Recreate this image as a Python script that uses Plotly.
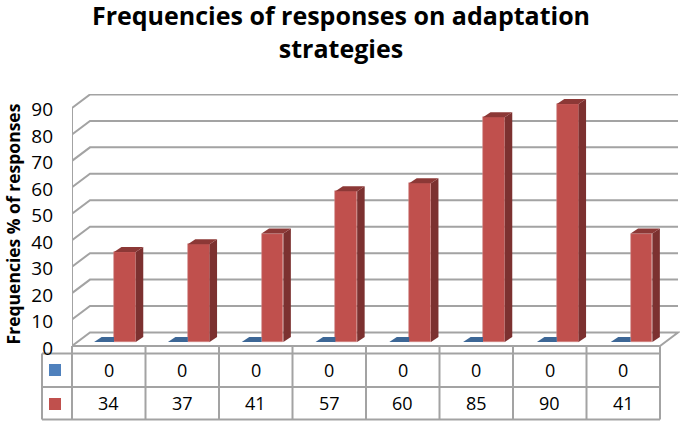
import plotly.graph_objects as go

cells = list(range(8))
blue_values = [0, 0, 0, 0, 0, 0, 0, 0]
red_values = [34, 37, 41, 57, 60, 85, 90, 41]
y_ticks = [0, 10, 20, 30, 40, 50, 60, 70, 80, 90]
title_text = "Frequencies of responses on adaptation<br>strategies"
y_title = "Frequencies % of responses"

FONT = "Open Sans"
GRID = "#a3a3a3"
RED = "#c0504d"
RED_SIDE = "#7c3130"
RED_TOP = "#8c3836"
BLUE = "#4f81bd"
BLUE_TOP = "#3d6796"

X_SCALE = 73.8    # px per category for the bars
Y_SCALE = 2.645   # px per percent
WALL_DX, WALL_DY = 18 / X_SCALE, 13.5 / Y_SCALE
BAR_DX, BAR_DY = 7.5 / X_SCALE, 5 / Y_SCALE
BAR_BASE = 4 / Y_SCALE
BAR_LEFT, BAR_W = 0.069, 0.295
BLUE_LEFT = -0.20
X0 = -0.5
X1 = X0 + 588 / X_SCALE
LABEL_NUDGE = 0.7

fig = go.Figure()

fig.add_trace(go.Bar(
    x=cells, y=red_values, base=[BAR_BASE] * 8,
    width=[BAR_W] * 8, offset=[BAR_LEFT] * 8,
    marker=dict(color=RED, line=dict(color="#d08a88", width=0.6)),
    showlegend=False, hoverinfo="y",
))

for i, b, r in zip(cells, blue_values, red_values):
    yb = b + BAR_BASE
    xl = i + BLUE_LEFT
    xr = i + BAR_LEFT
    fig.add_trace(go.Scatter(
        x=[xl, xl + BAR_DX, xr, xr, xl], y=[yb, yb + BAR_DY, yb + BAR_DY, yb, yb],
        mode="lines", fill="toself", fillcolor=BLUE_TOP, line=dict(width=0),
        showlegend=False, hoverinfo="skip",
    ))
    xa = i + BAR_LEFT + BAR_W
    top = r + BAR_BASE
    fig.add_trace(go.Scatter(
        x=[xa, xa + BAR_DX, xa + BAR_DX, xa, xa],
        y=[BAR_BASE, BAR_BASE + BAR_DY, top + BAR_DY, top, BAR_BASE],
        mode="lines", fill="toself", fillcolor=RED_SIDE, line=dict(width=0),
        showlegend=False, hoverinfo="skip",
    ))
    xs = i + BAR_LEFT
    fig.add_trace(go.Scatter(
        x=[xs, xs + BAR_DX, xa + BAR_DX, xa, xs],
        y=[top, top + BAR_DY, top + BAR_DY, top, top],
        mode="lines", fill="toself", fillcolor=RED_TOP, line=dict(width=0),
        showlegend=False, hoverinfo="skip",
    ))

shapes = []
line = dict(color=GRID, width=2)
for t in y_ticks:
    path = f"M {X0} {t} L {X0 + WALL_DX} {t + WALL_DY} L {X1 + WALL_DX} {t + WALL_DY}"
    if t == 0:
        path += f" L {X1} 0 L {X0} 0"
    shapes.append(dict(type="path", path=path, xref="x", yref="y", line=line, layer="below"))
shapes.append(dict(type="line", xref="x", yref="y", x0=X0, x1=X0, y0=0, y1=y_ticks[-1],
                   line=line, layer="below"))

PH = 260.0
PW = 608.0
def py(px_from_top):
    return (354 - px_from_top) / PH
def px(px_from_left):
    return (px_from_left - 72) / PW

CELL = 73.5
for yy in [353.5, 387, 419.5]:
    shapes.append(dict(type="line", xref="paper", yref="paper", x0=px(42), x1=px(660),
                       y0=py(yy), y1=py(yy), line=line, layer="below"))
shapes.append(dict(type="line", xref="paper", yref="paper", x0=px(42), x1=px(42),
                   y0=py(353.5), y1=py(419.5), line=line, layer="below"))
for k in range(9):
    xk = px(72 + CELL * k)
    shapes.append(dict(type="line", xref="paper", yref="paper", x0=xk, x1=xk,
                       y0=py(346), y1=py(419.5), line=line, layer="below"))
for (top_px, colr) in [(364, BLUE), (398, RED)]:
    shapes.append(dict(type="rect", xref="paper", yref="paper",
                       x0=px(49), x1=px(61), y0=py(top_px), y1=py(top_px + 12),
                       fillcolor=colr, line=dict(width=0), layer="above"))

annotations = []
for row_y, vals in [(369.5, blue_values), (402.5, red_values)]:
    for i, v in zip(cells, vals):
        annotations.append(dict(x=px(72 + CELL * (i + 0.5)), y=py(row_y), xref="paper", yref="paper",
                                text=str(v), showarrow=False, yanchor="middle", xanchor="center",
                                font=dict(family=FONT, size=18, color="#000000")))

fig.update_layout(
    width=685, height=421,
    margin=dict(l=72, r=5, t=94, b=67, pad=0),
    paper_bgcolor="#ffffff", plot_bgcolor="rgba(0,0,0,0)",
    font=dict(family=FONT, color="#000000"),
    title=dict(text=title_text, x=341 / 685, xanchor="center", y=0.94, yanchor="top",
               font=dict(family=FONT, size=25, color="#000000", weight="bold")),
    xaxis=dict(range=[X0, X0 + PW / X_SCALE], visible=False, fixedrange=True),
    yaxis=dict(range=[-8 / Y_SCALE, 252 / Y_SCALE],
               tickvals=[t - LABEL_NUDGE for t in y_ticks], ticktext=[str(t) for t in y_ticks],
               showgrid=False, zeroline=False, showline=False, ticks="", ticklabelstandoff=18,
               tickfont=dict(family=FONT, size=19, color="#000000"),
               title=dict(text=y_title, standoff=6,
                          font=dict(family=FONT, size=17.5, color="#000000", weight="bold"))),
    shapes=shapes, annotations=annotations, showlegend=False, bargap=0,
)

fig.write_html("out.html", config={"displayModeBar": False},
               post_script="document.body.style.margin='0';")
